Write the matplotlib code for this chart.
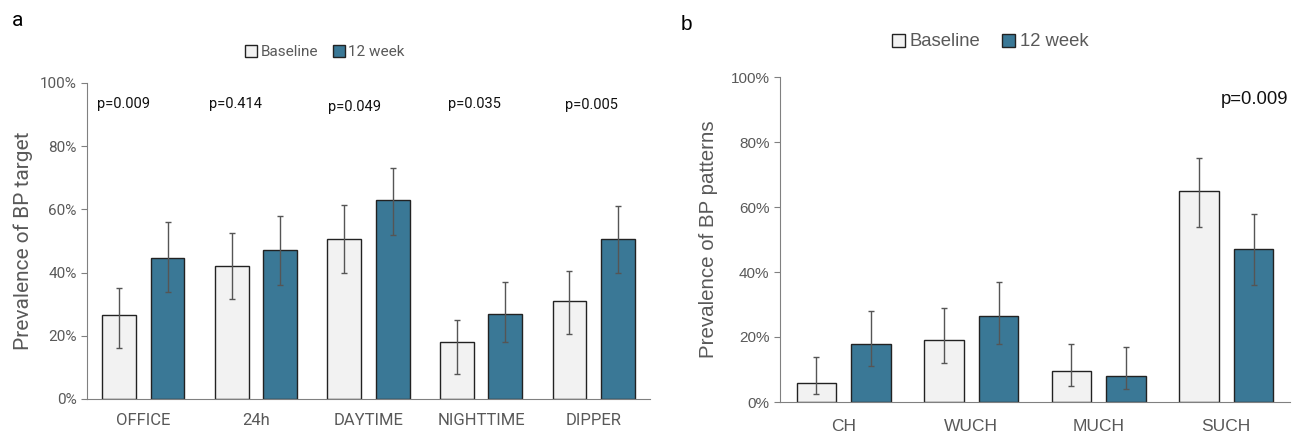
import matplotlib.pyplot as plt
import matplotlib.ticker as ticker
from matplotlib.patches import Patch
import numpy as np

# panel a data
cats_a = ['OFFICE', '24h', 'DAYTIME', 'NIGHTTIME', 'DIPPER']
base_a = [26.5, 42.0, 50.5, 18.0, 31.0]
base_a_lo = [16.0, 31.5, 40.0, 8.0, 20.5]
base_a_hi = [35.0, 52.5, 61.5, 25.0, 40.5]
wk12_a = [44.7, 47.0, 63.0, 27.0, 50.5]
wk12_a_lo = [34.0, 36.0, 52.0, 18.0, 40.0]
wk12_a_hi = [56.0, 58.0, 73.0, 37.0, 61.0]
pvals_a = ['p=0.009', 'p=0.414', 'p=0.049', 'p=0.035', 'p=0.005']
pheight_a = [93.5, 93.3, 92.5, 93.3, 93.0]

# panel b data
cats_b = ['CH', 'WUCH', 'MUCH', 'SUCH']
base_b = [6.0, 19.0, 9.5, 65.0]
base_b_lo = [2.5, 12.0, 5.0, 54.0]
base_b_hi = [14.0, 29.0, 18.0, 75.0]
wk12_b = [18.0, 26.5, 8.0, 47.0]
wk12_b_lo = [11.0, 18.0, 4.0, 36.0]
wk12_b_hi = [28.0, 37.0, 17.0, 58.0]

c_base = '#F2F2F2'
c_12 = '#3A7896'
c_edge = '#222222'
c_err = '#555555'
c_txt = '#595959'


def draw_panel(ax, cats, base, blo, bhi, wk, wlo, whi, off, width, font, xfs):
    x = np.arange(len(cats))
    base = np.array(base)
    wk = np.array(wk)
    ax.bar(x - off, base, width, color=c_base, edgecolor=c_edge, lw=1.0, zorder=2)
    ax.bar(x + off, wk, width, color=c_12, edgecolor=c_edge, lw=1.0, zorder=2)
    ax.errorbar(x - off, base, yerr=[base - np.array(blo), np.array(bhi) - base],
                fmt='none', ecolor=c_err, elinewidth=1.0, capsize=2.5, capthick=1.0, zorder=3)
    ax.errorbar(x + off, wk, yerr=[wk - np.array(wlo), np.array(whi) - wk],
                fmt='none', ecolor=c_err, elinewidth=1.0, capsize=2.5, capthick=1.0, zorder=3)
    ax.set_xlim(-0.5, len(cats) - 0.5)
    ax.set_ylim(0, 100)
    ax.yaxis.set_major_locator(ticker.MultipleLocator(20))
    ax.yaxis.set_major_formatter(ticker.FuncFormatter(lambda v, p: '%d%%' % v))
    ax.set_xticks(x)
    ax.set_xticklabels(cats, family=font, fontsize=xfs, color=c_txt)
    ax.tick_params(axis='x', length=0, pad=11)
    ax.tick_params(axis='y', length=4, color='#808080', labelcolor=c_txt, labelsize=11)
    for lab in ax.get_yticklabels():
        lab.set_family(font)
    for s in ('top', 'right'):
        ax.spines[s].set_visible(False)
    ax.spines['left'].set_color('#808080')
    ax.spines['bottom'].set_color('#808080')


fig = plt.figure(figsize=(12.95, 4.32), dpi=100)

ax1 = fig.add_axes([87 / 1295, 33 / 432, 563 / 1295, 316 / 432])
draw_panel(ax1, cats_a, base_a, base_a_lo, base_a_hi, wk12_a, wk12_a_lo, wk12_a_hi,
           0.215, 0.3, 'Roboto', 12)
ax1.tick_params(axis='x', pad=10)
ax1.set_ylabel('Prevalence of BP target', family='Roboto', fontsize=15, color=c_txt, labelpad=5)
px_a = [-0.18, -0.18, -0.12, -0.06, -0.02]
for i, (t, h) in enumerate(zip(pvals_a, pheight_a)):
    ax1.text(i + px_a[i], h, t, ha='center', va='center', family='Roboto', fontsize=10.5, color='#111111')
ax1.legend(handles=[Patch(facecolor=c_base, edgecolor=c_edge, label='Baseline'),
                    Patch(facecolor=c_12, edgecolor=c_edge, label='12 week')],
           loc='center', bbox_to_anchor=(325 / 1295, 1 - 52 / 432), bbox_transform=fig.transFigure,
           ncol=2, frameon=False, prop={'family': 'Roboto', 'size': 11},
           handlelength=0.8, handleheight=0.8, handletextpad=0.2, columnspacing=1.0,
           labelcolor=c_txt)
fig.text(18 / 1295, 1 - 20 / 432, 'a', fontsize=15, ha='center', va='center', family='Roboto')

ax2 = fig.add_axes([780 / 1295, 30 / 432, 510 / 1295, 325 / 432])
draw_panel(ax2, cats_b, base_b, base_b_lo, base_b_hi, wk12_b, wk12_b_lo, wk12_b_hi,
           0.215, 0.31, 'Liberation Sans', 12.5)
ax2.tick_params(axis='x', pad=12)
ax2.set_ylabel('Prevalence of BP patterns', family='Liberation Sans', fontsize=14.8, color=c_txt, labelpad=9)
ax2.text(3.49, 93, 'p=0.009', ha='right', va='center', family='Liberation Sans', fontsize=13.3, color='#111111')
ax2.legend(handles=[Patch(facecolor=c_base, edgecolor=c_edge, label='Baseline'),
                    Patch(facecolor=c_12, edgecolor=c_edge, label='12 week')],
           loc='center', bbox_to_anchor=(990 / 1295, 1 - 42 / 432), bbox_transform=fig.transFigure,
           ncol=2, frameon=False, prop={'family': 'Liberation Sans', 'size': 13.3},
           handlelength=0.7, handleheight=0.7, handletextpad=0.25, columnspacing=1.2,
           labelcolor=c_txt)
fig.text(686 / 1295, 1 - 25 / 432, 'b', fontsize=15, ha='center', va='center', family='Liberation Sans')

fig.savefig('out.png', dpi=100)
